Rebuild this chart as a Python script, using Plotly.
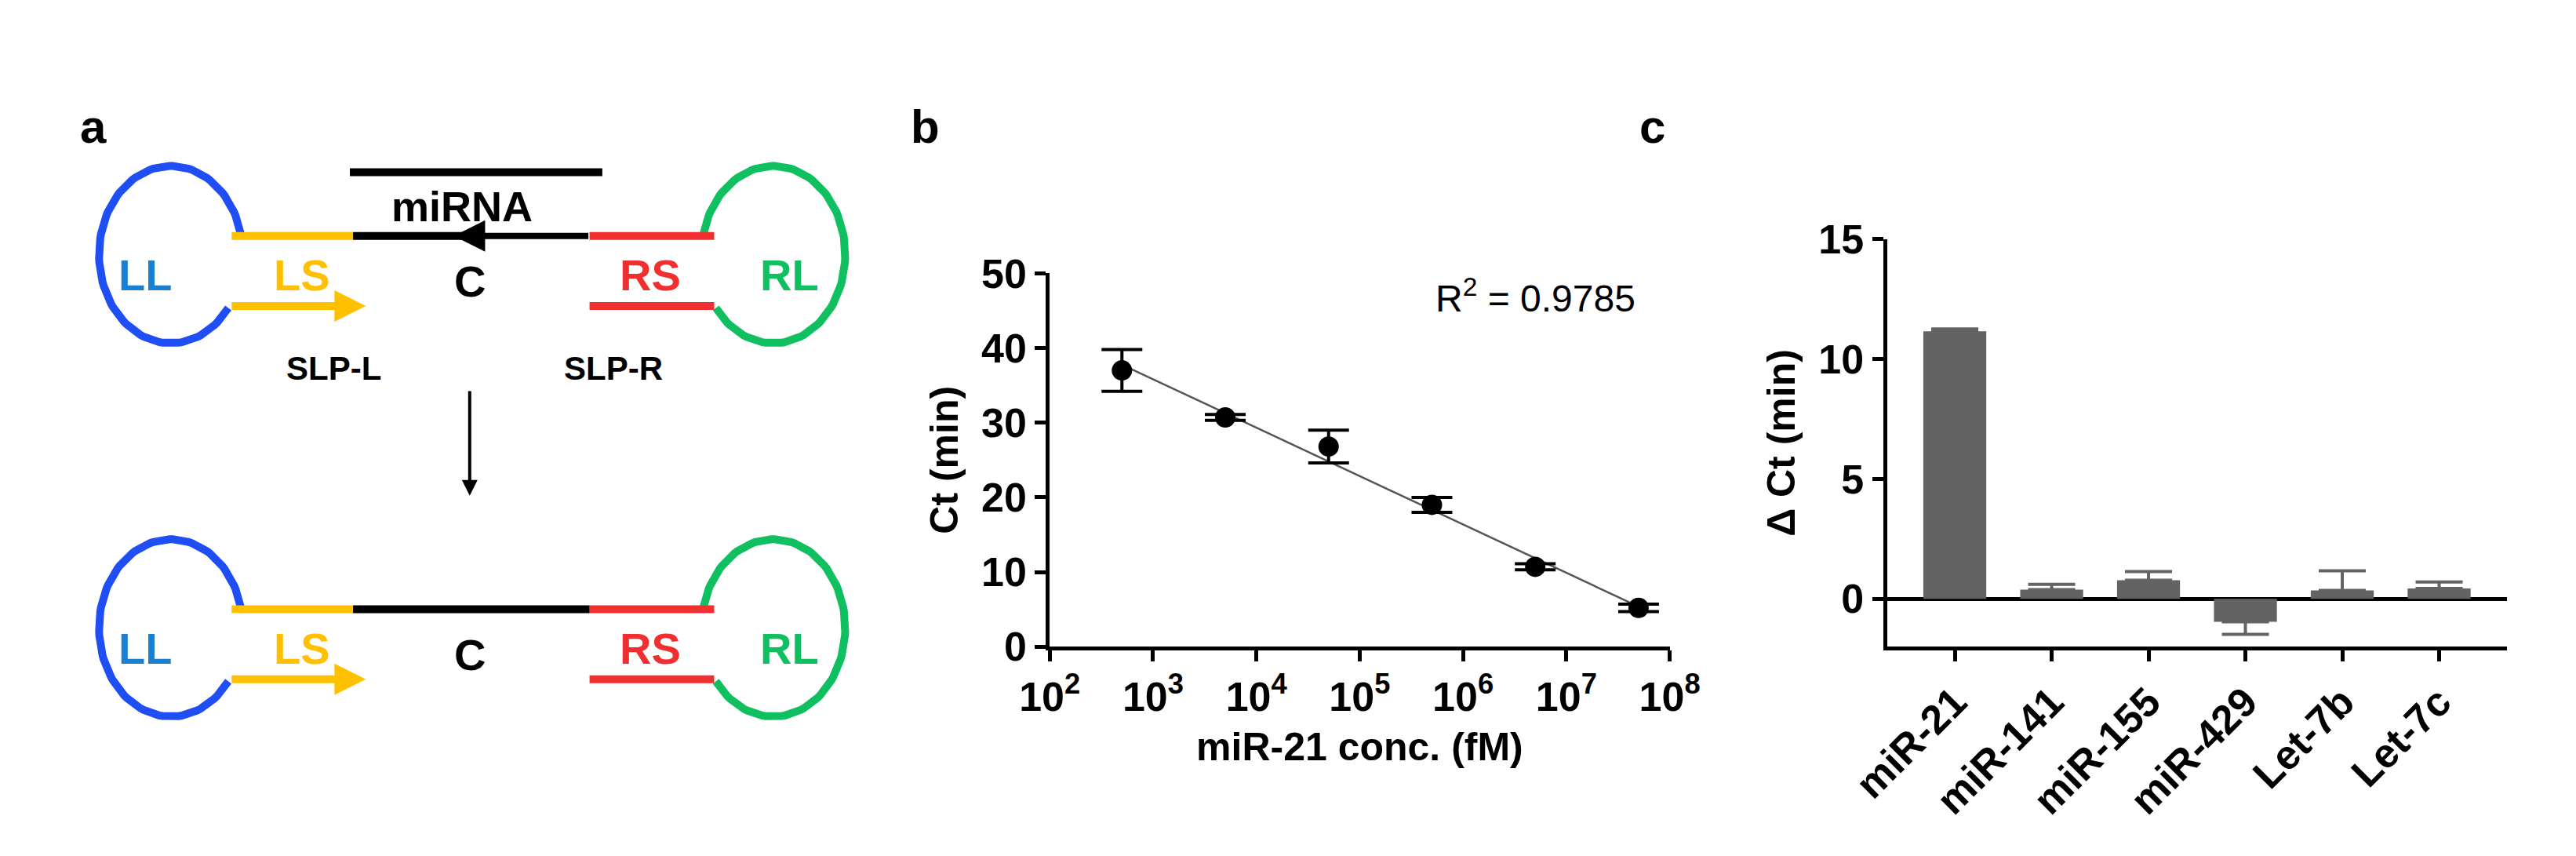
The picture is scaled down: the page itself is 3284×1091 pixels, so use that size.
import numpy as np
import plotly.graph_objects as go

# panel b data
conc = [5e2, 5e3, 5e4, 5e5, 5e6, 5e7]
ct = [37.0, 30.7, 26.8, 19.0, 10.7, 5.2]
ct_err = [2.8, 0.4, 2.2, 1.0, 0.4, 0.5]
r2_text = "R<sup>2</sup> = 0.9785"

# panel c data
targets = ["miR-21", "miR-141", "miR-155", "miR-429", "Let-7b", "Let-7c"]
delta_ct = [11.15, 0.38, 0.77, -0.96, 0.35, 0.43]
delta_err = [0.1, 0.22, 0.36, 0.52, 0.82, 0.27]

FONT = "Liberation Sans, Arial, sans-serif"
W, H = 3284, 1091
S = 3284 / 1568  # thumbnail -> pixel scale

fig = go.Figure()

# ---------- panel a: schematic drawn on a hidden axis ----------
AX = dict(xaxis="x3", yaxis="y3")
BLUE, YEL, RED, GRN = "#1f4ef5", "#ffc000", "#f03030", "#10c060"


def loop(cx, cy, rx, ry, a0, a1, color):
    t = np.radians(np.linspace(a0, a1, 120))
    fig.add_trace(go.Scatter(x=cx + rx * np.cos(t), y=cy + ry * np.sin(t), mode="lines",
                             line=dict(color=color, width=10), hoverinfo="skip", showlegend=False, **AX))


def seg(x0, x1, y, color):
    fig.add_shape(type="line", x0=x0, x1=x1, y0=y, y1=y, xref="x3", yref="y3",
                  line=dict(color=color, width=10))


def arrow(x0, y0, x1, y1, color, width=8):
    fig.add_annotation(x=x1, y=y1, ax=x0, ay=y0, xref="x3", yref="y3", axref="x3", ayref="y3",
                       showarrow=True, arrowhead=2, arrowsize=1.0, arrowwidth=width,
                       arrowcolor=color, text="")


def label(x, y, t, color, size=56):
    fig.add_annotation(x=x, y=y, xref="x3", yref="y3", text="<b>%s</b>" % t, showarrow=False,
                       font=dict(family=FONT, size=size, color=color))


for dy, top in [(0, True), (240, False)]:
    cy = 145 + dy
    loop(78, cy, 45, 57, 37, 347, BLUE)
    loop(455, cy, 45, 57, 193, 503, GRN)
    seg(116, 192, 133 + dy, YEL)
    seg(116, 190, 178 + dy, YEL)
    arrow(116, 178 + dy, 200, 178 + dy, YEL)
    seg(340, 418, 133 + dy, RED)
    seg(340, 418, 178 + dy, RED)
    if top:
        seg(192, 262, 133, "black")
        arrow(340, 133, 255, 133, "black")
        seg(190, 348, 92, "black")
        label(260, 114, "miRNA", "black", 54)
    else:
        seg(192, 340, 373, "black")
    label(62, 158 + dy, "LL", "#1a7fd0")
    label(160, 158 + dy, "LS", YEL)
    label(265, 162 + dy, "C", "black")
    label(378, 158 + dy, "RS", RED)
    label(465, 158 + dy, "RL", GRN)

label(180, 218, "SLP-L", "black", 42)
label(355, 218, "SLP-R", "black", 42)
fig.add_annotation(x=265, y=300, ax=265, ay=232, xref="x3", yref="y3", axref="x3", ayref="y3",
                   showarrow=True, arrowhead=2, arrowwidth=4, arrowcolor="black", text="")

# ---------- panel b ----------
fit = np.polyfit(np.log10(conc), ct, 1)
fx = np.array([np.log10(conc[0]), np.log10(conc[-1])])
fig.add_trace(go.Scatter(x=10 ** fx, y=np.polyval(fit, fx), mode="lines",
                         line=dict(color="#555555", width=2.5), showlegend=False, xaxis="x", yaxis="y"))
fig.add_trace(go.Scatter(x=conc, y=ct, mode="markers", showlegend=False, xaxis="x", yaxis="y",
                         marker=dict(color="black", size=26),
                         error_y=dict(type="data", array=ct_err, color="black", thickness=4, width=26)))
fig.add_annotation(x=6.7, y=47, xref="x", yref="y", text=r2_text, showarrow=False,
                   font=dict(family=FONT, size=48, color="black"))

# ---------- panel c ----------
pos_err = [e if v >= 0 else 0 for v, e in zip(delta_ct, delta_err)]
neg_err = [e if v < 0 else 0 for v, e in zip(delta_ct, delta_err)]
fig.add_trace(go.Bar(x=targets, y=delta_ct, width=0.65, marker=dict(color="#636363", line=dict(width=0)),
                     showlegend=False, xaxis="x2", yaxis="y2",
                     error_y=dict(type="data", array=pos_err, arrayminus=neg_err,
                                  color="#636363", thickness=4, width=30)))

tick_font = dict(family=FONT, size=52, color="black")
axis_common = dict(showline=True, linecolor="black", linewidth=5, ticks="outside", tickwidth=5,
                   ticklen=14, tickcolor="black", showgrid=False, zeroline=False,
                   tickfont=tick_font)
title_font = dict(family=FONT, size=50, color="black")

fig.update_layout(
    width=W, height=H, plot_bgcolor="white", paper_bgcolor="white",
    margin=dict(l=0, r=0, t=0, b=0),
    xaxis=dict(axis_common, type="log", domain=[628 * S / W, 1016 * S / W], range=[2, 8],
               tickvals=[10 ** k for k in range(2, 9)],
               ticktext=["<b>10<sup>%d</sup></b>" % k for k in range(2, 9)],
               title=dict(text="<b>miR-21 conc. (fM)</b>", font=title_font, standoff=20),
               anchor="y"),
    yaxis=dict(axis_common, domain=[1 - 397 * S / H, 1 - 157 * S / H], range=[0, 50],
               tickvals=[0, 10, 20, 30, 40, 50], ticktext=["<b>%d</b>" % v for v in range(0, 60, 10)],
               title=dict(text="<b>Ct (min)</b>", font=title_font, standoff=15), anchor="x"),
    xaxis2=dict(axis_common, domain=[1152 * S / W, 1540 * S / W], range=[-0.7, 5.7],
                tickangle=-45, tickvals=targets, ticktext=["<b>%s</b>" % t for t in targets],
                anchor="y2"),
    yaxis2=dict(axis_common, domain=[1 - 397 * S / H, 1 - 135 * S / H], range=[-2, 15],
                tickvals=[0, 5, 10, 15], ticktext=["<b>%d</b>" % v for v in [0, 5, 10, 15]],
                zeroline=True, zerolinecolor="black", zerolinewidth=5,
                title=dict(text="<b>Δ Ct (min)</b>", font=title_font, standoff=15), anchor="x2"),
    xaxis3=dict(domain=[0, 540 * S / W], range=[0, 540], visible=False, anchor="y3"),
    yaxis3=dict(domain=[0, 1], range=[521, 0], visible=False, anchor="x3"),
)

for t, x in [("a", 20), ("b", 550), ("c", 1005)]:
    fig.add_annotation(x=x * S / W, y=1 - 45 * S / H, xref="paper", yref="paper", text="<b>%s</b>" % t,
                       showarrow=False, font=dict(family=FONT, size=60, color="black"))

fig.write_html("out.html")
